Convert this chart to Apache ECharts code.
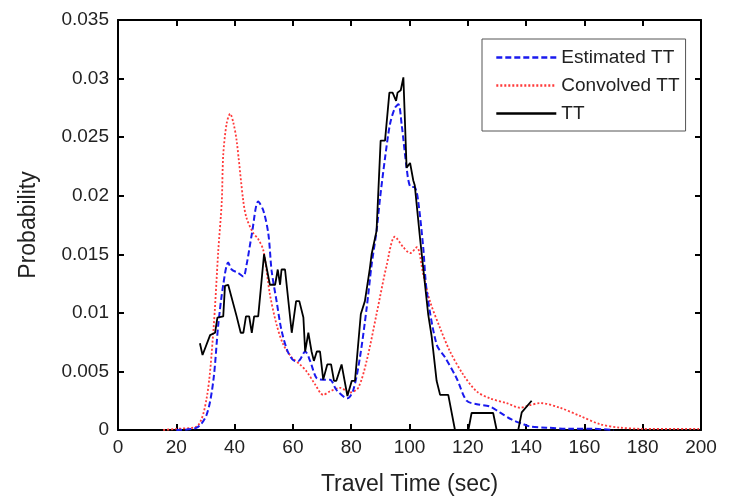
<!DOCTYPE html>
<html><head><meta charset="utf-8">
<script src="https://cdn.jsdelivr.net/npm/echarts@6/dist/echarts.min.js"></script>
<style>html,body{margin:0;padding:0;background:#fff}#c{width:729px;height:501px}</style>
</head><body><div id="c"></div>
<script>
const ttX = [28.1,29.0,31.6,33.3,34.1,36.1,36.7,37.8,40.7,42.1,43.0,43.9,45.0,45.9,46.7,48.1,50.1,52.1,53.9,54.8,55.6,56.1,57.3,59.6,61.1,62.2,63.6,64.2,65.3,66.4,67.2,68.2,69.3,70.4,71.8,73.1,74.1,74.9,76.7,77.3,78.7,80.2,81.3,83.3,84.7,85.2,86.4,87.0,88.7,90.1,91.6,93.1,94.2,95.4,95.9,97.0,97.9,99.0,100.2,101.3,101.8,103.6,106.4,107.6,109.3,110.5,113.3,115.6,120.2,121.3,125.3,128.7,129.9,137.3,138.5,141.9];
const ttY = [0.0074,0.0064,0.0081,0.0083,0.0096,0.0097,0.0123,0.0124,0.0097,0.0083,0.0083,0.0097,0.0097,0.0083,0.0097,0.0097,0.0150,0.0124,0.0124,0.0137,0.0124,0.0137,0.0137,0.0083,0.0110,0.0110,0.0096,0.0067,0.0083,0.0067,0.0059,0.0067,0.0067,0.0043,0.0056,0.0056,0.0042,0.0042,0.0056,0.0056,0.0029,0.0042,0.0042,0.0099,0.0110,0.0110,0.0138,0.0150,0.0170,0.0247,0.0247,0.0288,0.0288,0.0281,0.0288,0.0290,0.0301,0.0224,0.0228,0.0213,0.0209,0.0164,0.0099,0.0080,0.0042,0.0030,0.0030,0.0,0.0,0.00145,0.00145,0.00145,0.0,0.0,0.0015,0.0025];
const estX = [20,27,30.4,32.7,34.4,36.1,37.8,39.0,41.3,43.0,44.1,45.9,48.1,49.9,51.6,52.7,54.4,56.1,58.4,60.7,61.9,64.2,65.9,68.2,70.4,72.7,75.0,78.7,80.7,83.0,85.3,87.0,88.7,89.9,91.6,93.3,95.0,96.2,97.3,99.0,100.2,101.9,103.0,104.7,105.9,109.3,112.2,116.2,119.6,123.1,127.6,131.0,135.0,139.0,141.3,147,155,163,170];
const estY = [0,0.0002,0.0013,0.0042,0.0090,0.0124,0.0143,0.0137,0.0134,0.0131,0.0141,0.0167,0.0195,0.0187,0.0167,0.0136,0.0110,0.0085,0.0066,0.0059,0.0059,0.0067,0.0059,0.0044,0.0043,0.0043,0.0034,0.0027,0.0034,0.0062,0.0104,0.0141,0.0170,0.0198,0.0232,0.0261,0.0275,0.0278,0.0261,0.0224,0.0208,0.0207,0.0195,0.0156,0.0119,0.0073,0.0062,0.0044,0.0025,0.0022,0.0020,0.0015,0.0009,0.0005,0.0003,0.0002,0.0001,0.0001,0];
const convX = [15.5,20,27,30.4,32.7,34.4,35.6,36.1,37.3,38.5,39.6,40.7,43.0,44.1,46.4,48.1,49.9,52.1,54.4,56.7,59.6,62.4,64.7,67.6,70.4,72.7,76.2,79.6,82.4,85.3,88.7,92.2,95.0,97.9,100.2,102.5,104.7,107.0,110.5,113.9,118.5,123.0,127.6,133.3,137.9,141,144.8,151.6,158.5,165.3,172.2,180,200];
const convY = [0,0.0001,0.0003,0.0027,0.0084,0.0153,0.0195,0.0235,0.0262,0.0270,0.0262,0.0247,0.0195,0.0181,0.0168,0.0163,0.0153,0.0116,0.0090,0.0073,0.0062,0.0056,0.0050,0.0039,0.0030,0.0033,0.0036,0.0032,0.0036,0.0059,0.0099,0.0141,0.0165,0.0156,0.0151,0.0156,0.0133,0.0110,0.0087,0.0067,0.0047,0.0033,0.0027,0.0023,0.0019,0.0021,0.0023,0.0019,0.0012,0.0005,0.0002,0.0001,0.0001];

const pairs = (xs, ys) => xs.map((x, i) => [x, ys[i]]);
const font = 'Liberation Sans, Arial, sans-serif';
const chart = echarts.init(document.getElementById('c'), null, {renderer: 'canvas'});
const axLine = {show: true, onZero: false, lineStyle: {color: '#000', width: 2}};
const tick = {show: true, inside: true, length: 6, lineStyle: {color: '#000', width: 2}};
chart.setOption({
  animation: false,
  backgroundColor: '#fff',
  textStyle: {fontFamily: font},
  grid: {left: 118, right: 28, top: 20, bottom: 69, containLabel: false},
  legend: {
    orient: 'vertical', left: 482, top: 39,
    backgroundColor: '#fff', borderColor: '#555', borderWidth: 1,
    padding: [9, 6, 8, 13], itemGap: 9, itemWidth: 60, itemHeight: 20,
    itemStyle: {opacity: 0, borderWidth: 0},
    lineStyle: {width: 2.6},
    textStyle: {fontFamily: font, fontSize: 19, color: '#222'},
    data: ['Estimated TT', 'Convolved TT', 'TT']
  },
  xAxis: [{
    type: 'value', min: 0, max: 200, interval: 20,
    name: 'Travel Time (sec)', nameLocation: 'middle', nameGap: 43,
    nameTextStyle: {fontSize: 23, color: '#222', fontFamily: font},
    axisLine: axLine, axisTick: tick,
    axisLabel: {fontSize: 19, color: '#222', margin: 8, fontFamily: font},
    splitLine: {show: false}
  }, {
    type: 'value', min: 0, max: 200, interval: 20, position: 'top',
    axisLine: axLine, axisTick: tick,
    axisLabel: {show: false}, splitLine: {show: false}
  }],
  yAxis: [{
    type: 'value', min: 0, max: 0.035, interval: 0.005,
    name: 'Probability', nameLocation: 'middle', nameGap: 78,
    nameTextStyle: {fontSize: 23, color: '#222', fontFamily: font},
    axisLine: axLine, axisTick: tick,
    axisLabel: {fontSize: 19, color: '#222', margin: 9, fontFamily: font,
      formatter: v => String(parseFloat(v.toFixed(3)))},
    splitLine: {show: false}
  }, {
    type: 'value', min: 0, max: 0.035, interval: 0.005, position: 'right',
    axisLine: axLine, axisTick: tick,
    axisLabel: {show: false}, splitLine: {show: false}
  }],
  series: [{
    name: 'Estimated TT', type: 'line', data: pairs(estX, estY),
    symbol: 'none', smooth: 0.3, z: 3,
    lineStyle: {color: '#1a1aee', width: 2, type: [6, 3]},
    itemStyle: {color: '#1a1aee'}
  }, {
    name: 'Convolved TT', type: 'line', data: pairs(convX, convY),
    symbol: 'none', smooth: 0.3, z: 2,
    lineStyle: {color: '#ff3a3a', width: 1.8, type: [2, 2]},
    itemStyle: {color: '#ff3a3a'}
  }, {
    name: 'TT', type: 'line', data: pairs(ttX, ttY),
    symbol: 'none', z: 4,
    lineStyle: {color: '#000', width: 1.8},
    itemStyle: {color: '#000'}
  }]
});
</script></body></html>
